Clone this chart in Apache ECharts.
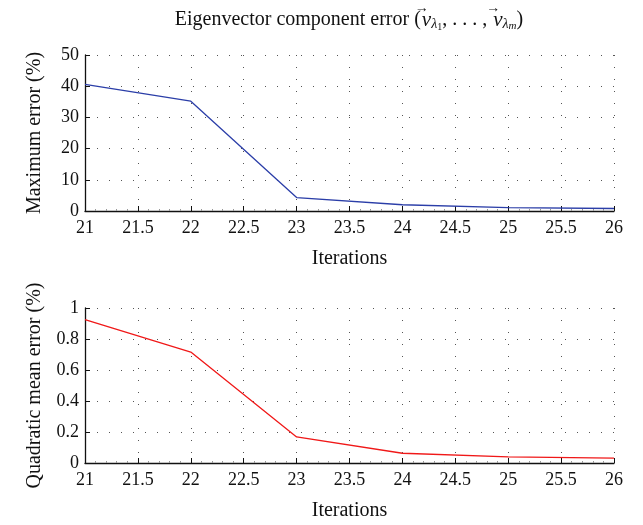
<!DOCTYPE html>
<html><head><meta charset="utf-8">
<script src="https://cdn.jsdelivr.net/npm/echarts@6/dist/echarts.min.js"></script>
<style>html,body{margin:0;padding:0;background:#fff}#c{width:643px;height:525px}</style>
</head><body><div id="c"></div>
<script>
const iterations = [21, 22, 23, 24, 25, 26];
const maxError = [40.6, 35.2, 4.3, 2.0, 1.1, 0.8];
const quadError = [0.925, 0.716, 0.168, 0.063, 0.039, 0.032];
const topYTicks = [0, 10, 20, 30, 40, 50];
const botYTicks = [0, 0.2, 0.4, 0.6, 0.8, 1];

const FONT = '"Liberation Serif", "DejaVu Serif", serif';
const chart = echarts.init(document.getElementById('c'));

function xAx(gi) {
  return {
    type: 'value', gridIndex: gi, min: 21, max: 26, interval: 0.5,
    name: 'Iterations', nameLocation: 'middle', nameGap: 38,
    nameTextStyle: {fontFamily: FONT, fontSize: 20, color: '#111'},
    axisLine: {lineStyle: {color: '#111', width: 1.3}},
    axisTick: {inside: true, length: 5, lineStyle: {color: '#111'}},
    minorTick: {show: true, splitNumber: 5, length: 2, lineStyle: {color: '#999'}},
    axisLabel: {fontFamily: FONT, fontSize: 18, color: '#111', margin: 8,
      formatter: v => String(v)},
    splitLine: {show: true, lineStyle: {color: '#555', type: [1, 11], width: 1}}
  };
}
function yAx(gi, ticks, name) {
  return {
    type: 'value', gridIndex: gi, min: ticks[0], max: ticks[ticks.length - 1],
    interval: ticks[1] - ticks[0],
    name: name, nameLocation: 'middle', nameGap: 40,
    nameTextStyle: {fontFamily: FONT, fontSize: 20, color: '#111'},
    axisLine: {show: true, lineStyle: {color: '#111', width: 1.3}},
    axisTick: {show: true, inside: true, length: 5, lineStyle: {color: '#111'}},
    axisLabel: {fontFamily: FONT, fontSize: 18, color: '#111', margin: 6,
      formatter: v => String(+v.toFixed(2))},
    splitLine: {show: true, lineStyle: {color: '#555', type: [1, 11], width: 1}}
  };
}

chart.setOption({
  backgroundColor: '#fff',
  animation: false,
  title: {
    left: 344, top: -4, textAlign: 'center',
    text: 'Eigenvector component error ({a|→}{v|v}{s|λ}{t|1}, . . . , {a|→}{v|v}{s|λ}{m|m})',
    textStyle: {
      fontFamily: FONT, fontSize: 20, fontWeight: 'normal', color: '#111',
      rich: {
        a: {fontFamily: FONT, fontSize: 14, color: '#111', width: 0, align: 'left', padding: [0, 0, 24, 1]},
        v: {fontFamily: FONT, fontSize: 21, fontStyle: 'italic', color: '#111'},
        s: {fontFamily: FONT, fontSize: 14, fontStyle: 'italic', color: '#111', padding: [9, 0, 0, 0]},
        t: {fontFamily: FONT, fontSize: 10, color: '#111', padding: [14, 0, 0, 0]},
        m: {fontFamily: FONT, fontSize: 11, fontStyle: 'italic', color: '#111', padding: [13, 0, 0, 0]}
      }
    }
  },
  grid: [
    {left: 85, right: 29, top: 55, height: 156},
    {left: 85, right: 29, top: 308, height: 155}
  ],
  xAxis: [xAx(0), xAx(1)],
  yAxis: [yAx(0, topYTicks, 'Maximum error (%)'), yAx(1, botYTicks, 'Quadratic mean error (%)')],
  series: [
    {type: 'line', xAxisIndex: 0, yAxisIndex: 0, showSymbol: false,
     lineStyle: {color: '#2b3ea8', width: 1.3},
     data: iterations.map((x, i) => [x, maxError[i]])},
    {type: 'line', xAxisIndex: 1, yAxisIndex: 1, showSymbol: false,
     lineStyle: {color: '#f01818', width: 1.3},
     data: iterations.map((x, i) => [x, quadError[i]])}
  ]
});
</script></body></html>
